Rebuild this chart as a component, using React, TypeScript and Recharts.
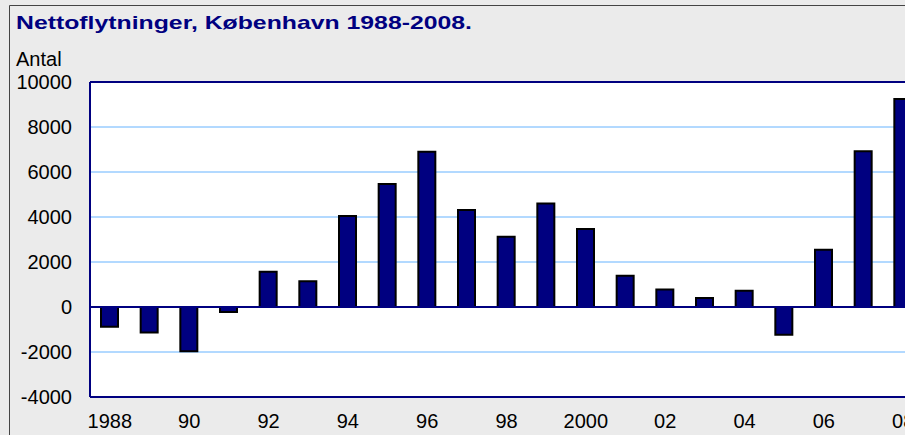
import React from 'react';
import { BarChart, Bar, XAxis, YAxis, CartesianGrid, ReferenceLine } from 'recharts';

const years = [
  1988, 1989, 1990, 1991, 1992, 1993, 1994, 1995, 1996, 1997, 1998,
  1999, 2000, 2001, 2002, 2003, 2004, 2005, 2006, 2007, 2008,
];

const netMigration = [
  -880, -1130, -1970, -220, 1570, 1140, 4040, 5470, 6900, 4310, 3120,
  4600, 3470, 1390, 780, 400, 720, -1230, 2550, 6920, 9240,
];

const xTickLabels = [
  '1988', '', '90', '', '92', '', '94', '', '96', '', '98',
  '', '2000', '', '02', '', '04', '', '06', '', '08',
];

const yTicks = [-4000, -2000, 0, 2000, 4000, 6000, 8000, 10000];

const title = 'Nettoflytninger, København 1988-2008.';
const yUnit = 'Antal';

const NAVY = '#000080';
const FONT = '"Liberation Sans", Arial, sans-serif';

const data = years.map((year, i) => ({
  year: String(year),
  value: netMigration[i],
}));

const labelFor = (year: string) => {
  const i = years.indexOf(Number(year));
  return i >= 0 ? xTickLabels[i] : '';
};

export default function App() {
  return (
    <div
      style={{
        position: 'fixed',
        left: 0,
        top: 0,
        width: 905,
        height: 435,
        overflow: 'hidden',
        background: '#EBEBEB',
        fontFamily: FONT,
      }}
    >
      <svg
        width={905}
        height={435}
        style={{ position: 'absolute', left: 0, top: 0, pointerEvents: 'none' }}
      >
        <line x1={9.5} y1={5.5} x2={905} y2={5.5} stroke="#444" strokeWidth={1} />
        <line x1={9.5} y1={5.5} x2={9.5} y2={435} stroke="#444" strokeWidth={1} />
        <text
          x={16}
          y={28.5}
          fontFamily={FONT}
          fontSize={19}
          fontWeight="bold"
          fill={NAVY}
          textLength={456}
          lengthAdjust="spacingAndGlyphs"
        >
          {title}
        </text>
        <text x={16} y={66} fontFamily={FONT} fontSize={20} fill="#000">
          {yUnit}
        </text>
      </svg>
      <div style={{ position: 'absolute', left: 0, top: 0 }}>
        <BarChart
          width={923}
          height={435}
          data={data}
          margin={{ top: 82, right: 0, bottom: 0, left: 0 }}
        >
          <CartesianGrid vertical={false} stroke="#66B3FF" fill="#FFFFFF" />
          <XAxis
            dataKey="year"
            interval={0}
            height={38}
            tickLine={false}
            tickSize={0}
            tickMargin={17}
            tickFormatter={labelFor}
            axisLine={{ stroke: NAVY, strokeWidth: 2 }}
            tick={{ fill: '#000', fontSize: 20, fontFamily: FONT }}
          />
          <YAxis
            width={90}
            domain={[-4000, 10000]}
            ticks={yTicks}
            interval={0}
            tickLine={false}
            tickSize={0}
            tickMargin={18}
            axisLine={{ stroke: NAVY, strokeWidth: 2 }}
            tick={{ fill: '#000', fontSize: 20, fontFamily: FONT }}
          />
          <ReferenceLine y={10000} stroke={NAVY} strokeWidth={2} />
          <Bar
            dataKey="value"
            fill={NAVY}
            stroke="#000"
            strokeWidth={2}
            barSize={17}
            isAnimationActive={false}
          />
          <ReferenceLine y={0} stroke={NAVY} strokeWidth={2} />
        </BarChart>
      </div>
    </div>
  );
}
